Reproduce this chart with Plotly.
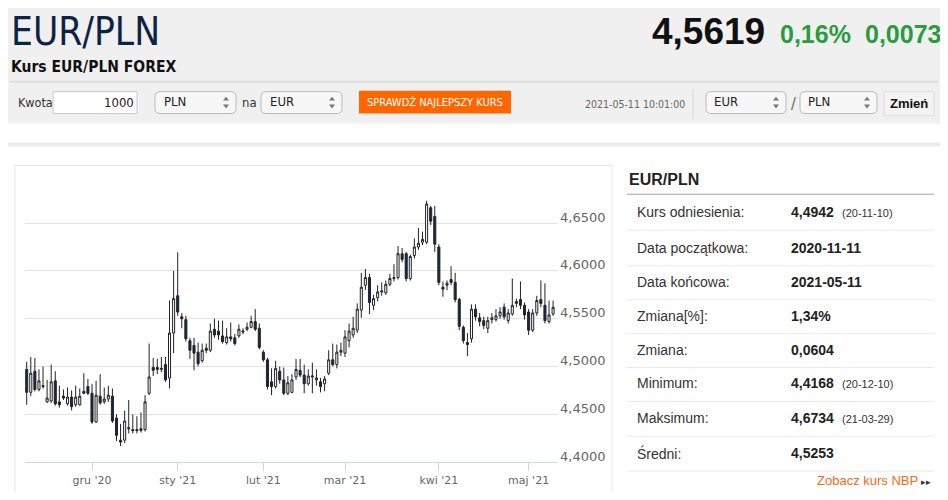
import plotly.graph_objects as go

# the page has an 8px body margin, so the figure is drawn 8px in from the edges
PAGE_W, PAGE_H = 948, 500
OFF = 8
W, H = PAGE_W - 2 * OFF, PAGE_H - 2 * OFF

# trading days shown on the ordinal axis
NOV_20 = [9, 10, 11, 12, 13, 16, 17, 18, 19, 20, 23, 24, 25, 26, 27, 30]
DEC_20 = [1, 2, 3, 4, 7, 8, 9, 10, 11, 14, 15, 16, 17, 18, 21, 22, 23, 28, 29, 30, 31]
JAN_21 = [1, 4, 5, 6, 7, 8, 11, 12, 13, 14, 15, 18, 19, 20, 21, 22, 25, 26, 27, 28, 29]
FEB_21 = [1, 2, 3, 4, 5, 8, 9, 10, 11, 12, 15, 16, 17, 18, 19, 22, 23, 24, 25, 26]
MAR_21 = [1, 2, 3, 4, 5, 8, 9, 10, 11, 12, 15, 16, 17, 18, 19, 22, 23, 24, 25, 26, 29, 30, 31]
APR_21 = [1, 2, 5, 6, 7, 8, 9, 12, 13, 14, 15, 16, 19, 20, 21, 22, 23, 26, 27, 28, 29, 30]
MAY_21 = [3, 4, 5, 6, 7, 10, 11]

dates = ([f"2020-11-{d:02d}" for d in NOV_20] + [f"2020-12-{d:02d}" for d in DEC_20]
         + [f"2021-01-{d:02d}" for d in JAN_21] + [f"2021-02-{d:02d}" for d in FEB_21]
         + [f"2021-03-{d:02d}" for d in MAR_21] + [f"2021-04-{d:02d}" for d in APR_21]
         + [f"2021-05-{d:02d}" for d in MAY_21])

OPEN = [4.497, 4.473, 4.495, 4.476, 4.480, 4.463, 4.464, 4.485, 4.463, 4.469,
        4.461, 4.468, 4.460, 4.460, 4.474, 4.479, 4.472, 4.442, 4.469, 4.463,
        4.466, 4.469, 4.446, 4.423, 4.423, 4.436, 4.434, 4.434, 4.433, 4.434,
        4.472, 4.499, 4.499, 4.497, 4.502, 4.488, 4.535, 4.574, 4.552, 4.549,
        4.527, 4.522, 4.515, 4.506, 4.519, 4.517, 4.539, 4.537, 4.532, 4.525,
        4.531, 4.530, 4.532, 4.536, 4.539, 4.541, 4.547, 4.540, 4.515, 4.507,
        4.484, 4.479, 4.495, 4.486, 4.472, 4.473, 4.489, 4.496, 4.491, 4.482,
        4.489, 4.486, 4.484, 4.482, 4.493, 4.507, 4.502, 4.515, 4.514, 4.527,
        4.533, 4.538, 4.559, 4.585, 4.593, 4.564, 4.572, 4.578, 4.577, 4.586,
        4.592, 4.593, 4.618, 4.618, 4.592, 4.616, 4.625, 4.630, 4.630, 4.666,
        4.657, 4.625, 4.583, 4.585, 4.591, 4.588, 4.570, 4.541, 4.525, 4.529,
        4.560, 4.551, 4.548, 4.540, 4.549, 4.549, 4.553, 4.562, 4.548, 4.555,
        4.566, 4.570, 4.564, 4.557, 4.538, 4.556, 4.570, 4.564, 4.547, 4.555]
HIGH = [4.505, 4.510, 4.509, 4.497, 4.500, 4.486, 4.502, 4.495, 4.480, 4.476,
        4.478, 4.475, 4.480, 4.477, 4.493, 4.487, 4.482, 4.485, 4.492, 4.478,
        4.480, 4.477, 4.450, 4.440, 4.454, 4.465, 4.450, 4.448, 4.452, 4.470,
        4.524, 4.509, 4.508, 4.510, 4.510, 4.569, 4.600, 4.6195, 4.556, 4.553,
        4.530, 4.530, 4.525, 4.524, 4.524, 4.545, 4.550, 4.548, 4.548, 4.540,
        4.546, 4.534, 4.544, 4.540, 4.546, 4.553, 4.560, 4.545, 4.517, 4.509,
        4.498, 4.506, 4.500, 4.499, 4.490, 4.492, 4.508, 4.508, 4.502, 4.497,
        4.504, 4.497, 4.488, 4.490, 4.517, 4.524, 4.523, 4.525, 4.538, 4.545,
        4.552, 4.566, 4.598, 4.602, 4.597, 4.575, 4.585, 4.588, 4.590, 4.597,
        4.607, 4.626, 4.624, 4.620, 4.617, 4.634, 4.645, 4.641, 4.6734, 4.668,
        4.668, 4.628, 4.589, 4.590, 4.605, 4.598, 4.572, 4.543, 4.535, 4.565,
        4.565, 4.556, 4.552, 4.552, 4.556, 4.560, 4.562, 4.566, 4.560, 4.592,
        4.571, 4.589, 4.567, 4.560, 4.560, 4.574, 4.590, 4.587, 4.569, 4.569]
LOW = [4.460, 4.469, 4.474, 4.474, 4.477, 4.462, 4.462, 4.459, 4.457, 4.465,
       4.459, 4.454, 4.458, 4.459, 4.471, 4.470, 4.440, 4.441, 4.460, 4.461,
       4.463, 4.441, 4.422, 4.4168, 4.420, 4.430, 4.430, 4.430, 4.431, 4.432,
       4.470, 4.490, 4.492, 4.494, 4.484, 4.477, 4.514, 4.553, 4.540, 4.526,
       4.508, 4.496, 4.500, 4.504, 4.514, 4.515, 4.530, 4.528, 4.524, 4.523,
       4.526, 4.522, 4.530, 4.534, 4.537, 4.540, 4.537, 4.518, 4.505, 4.476,
       4.470, 4.477, 4.482, 4.470, 4.470, 4.472, 4.486, 4.489, 4.472, 4.480,
       4.472, 4.480, 4.473, 4.474, 4.491, 4.500, 4.498, 4.511, 4.510, 4.520,
       4.530, 4.535, 4.551, 4.580, 4.555, 4.559, 4.568, 4.574, 4.575, 4.584,
       4.589, 4.591, 4.609, 4.589, 4.590, 4.613, 4.622, 4.627, 4.628, 4.648,
       4.620, 4.585, 4.573, 4.580, 4.585, 4.567, 4.538, 4.524, 4.511, 4.525,
       4.548, 4.542, 4.539, 4.535, 4.545, 4.547, 4.550, 4.549, 4.545, 4.553,
       4.562, 4.560, 4.549, 4.533, 4.536, 4.553, 4.562, 4.545, 4.545, 4.553]
CLOSE = [4.473, 4.493, 4.476, 4.485, 4.479, 4.467, 4.484, 4.461, 4.460, 4.467,
         4.468, 4.458, 4.468, 4.469, 4.472, 4.472, 4.442, 4.470, 4.462, 4.466,
         4.470, 4.443, 4.428, 4.421, 4.443, 4.435, 4.433, 4.433, 4.435, 4.463,
         4.489, 4.496, 4.497, 4.498, 4.486, 4.535, 4.571, 4.557, 4.550, 4.529,
         4.517, 4.514, 4.503, 4.517, 4.517, 4.537, 4.533, 4.533, 4.526, 4.531,
         4.529, 4.524, 4.539, 4.537, 4.541, 4.547, 4.539, 4.520, 4.507, 4.479,
         4.479, 4.498, 4.486, 4.472, 4.483, 4.486, 4.497, 4.491, 4.482, 4.490,
         4.490, 4.488, 4.479, 4.487, 4.507, 4.502, 4.515, 4.517, 4.531, 4.537,
         4.540, 4.560, 4.583, 4.593, 4.567, 4.571, 4.578, 4.579, 4.586, 4.592,
         4.593, 4.618, 4.612, 4.592, 4.615, 4.625, 4.629, 4.633, 4.670, 4.652,
         4.628, 4.588, 4.581, 4.587, 4.588, 4.570, 4.542, 4.527, 4.523, 4.560,
         4.552, 4.547, 4.543, 4.548, 4.551, 4.553, 4.557, 4.552, 4.556, 4.564,
         4.568, 4.564, 4.554, 4.538, 4.556, 4.569, 4.566, 4.548, 4.554, 4.5619]

TICK_DATES = ["2020-12-01", "2021-01-01", "2021-02-01", "2021-03-01", "2021-04-01", "2021-05-03"]
TICK_TEXT = ["gru '20", "sty '21", "lut '21", "mar '21", "kwi '21", "maj '21"]
Y_TICKS = [4.40, 4.45, 4.50, 4.55, 4.60, 4.65, 4.70]
Y_TEXT = ["4,4000", "4,4500", "4,5000", "4,5500", "4,6000", "4,6500", ""]

STAT_LABELS = ["Kurs odniesienia:", "Data początkowa:", "Data końcowa:", "Zmiana[%]:",
               "Zmiana:", "Minimum:", "Maksimum:", "Średni:"]
STAT_VALUES = ["4,4942", "2020-11-11", "2021-05-11", "1,34%", "0,0604", "4,4168", "4,6734", "4,5253"]
STAT_DATES = ["(20-11-10)", "", "", "", "", "(20-12-10)", "(21-03-29)", ""]

SANS = "Liberation Sans, Arial, sans-serif"
NARROW = "Liberation Sans Narrow, DejaVu Sans Condensed, Arial Narrow, sans-serif"
ORANGE = "#ff6600"
GREEN = "#2b9b3f"


def px(x):
    return (x - OFF) / W


def py(y):
    return 1 - (y - OFF) / H


shapes = []
annotations = []


def rect(x0, y0, x1, y1, fill, line=None, lw=0):
    shapes.append(dict(type="rect", xref="paper", yref="paper", layer="below",
                       x0=px(x0), x1=px(x1), y0=py(y1), y1=py(y0),
                       fillcolor=fill, line=dict(color=line or fill, width=lw)))


def hline(x0, x1, y, color, lw=1):
    shapes.append(dict(type="line", xref="paper", yref="paper", layer="below",
                       x0=px(x0), x1=px(x1), y0=py(y), y1=py(y),
                       line=dict(color=color, width=lw)))


def vline(x, y0, y1, color, lw=1):
    shapes.append(dict(type="line", xref="paper", yref="paper", layer="below",
                       x0=px(x), x1=px(x), y0=py(y0), y1=py(y1),
                       line=dict(color=color, width=lw)))


def rrect(x0, y0, x1, y1, r, fill, line):
    pts = (f"M{px(x0 + r)},{py(y0)} L{px(x1 - r)},{py(y0)} Q{px(x1)},{py(y0)} {px(x1)},{py(y0 + r)} "
           f"L{px(x1)},{py(y1 - r)} Q{px(x1)},{py(y1)} {px(x1 - r)},{py(y1)} "
           f"L{px(x0 + r)},{py(y1)} Q{px(x0)},{py(y1)} {px(x0)},{py(y1 - r)} "
           f"L{px(x0)},{py(y0 + r)} Q{px(x0)},{py(y0)} {px(x0 + r)},{py(y0)} Z")
    shapes.append(dict(type="path", xref="paper", yref="paper", layer="below", path=pts,
                       fillcolor=fill, line=dict(color=line, width=1)))


def arrows(cx, cy, color="#777"):
    for sgn in (-1, 1):
        tip = cy + sgn * 6
        base = cy + sgn * 2
        shapes.append(dict(type="path", xref="paper", yref="paper", layer="below",
                           path=f"M{px(cx - 3)},{py(base)} L{px(cx + 3)},{py(base)} L{px(cx)},{py(tip)} Z",
                           fillcolor=color, line=dict(width=0)))


def text(x, y, s, size, color="#333", family=SANS, weight="normal", anchor="left", vanchor="middle"):
    annotations.append(dict(xref="paper", yref="paper", x=px(x), y=py(y), text=s,
                            showarrow=False, xanchor=anchor, yanchor=vanchor, borderpad=0,
                            font=dict(family=family, size=size, color=color, weight=weight)))


# page background blocks
rect(-20, -20, PAGE_W + 20, 124, "#f0f0f0")
hline(10, 938, 82, "#dcdcdc", 2)
rect(-20, 143, PAGE_W + 20, 147, "#ebebeb")
rect(-20, 147, 3, PAGE_H + 20, "#ebebeb")
rect(945, 147, PAGE_W + 20, PAGE_H + 20, "#ebebeb")
rect(15, 166, 612, PAGE_H + 20, "#ffffff", "#e6e6e6", 1)

# header
text(10, 8.5, "EUR/PLN", 38.5, "#0c2347", NARROW, vanchor="top")
text(10, 67, "Kurs EUR/PLN FOREX", 15.5, "#111111", NARROW, "bold")
text(651, 32, "4,5619", 37, "#111111", SANS, "bold")
text(779, 34, "0,16%", 25, GREEN, SANS, "bold")
text(864, 34, "0,0073", 25, GREEN, SANS, "bold")

# converter form
text(17, 103, "Kwota", 12.5, "#333", NARROW)
rect(53, 92, 137, 114, "#ffffff", "#c8c8c8", 1)
text(135, 103, "1000", 13, "#222", NARROW, anchor="right")
rrect(155, 92, 236, 114, 5, "#f7f7f7", "#b9b9b9")
text(163, 102, "PLN", 13, "#222", NARROW)
arrows(226, 103)
text(241, 103, "na", 13, "#333", NARROW)
rrect(261, 92, 342, 114, 5, "#f7f7f7", "#b9b9b9")
text(269, 102, "EUR", 13, "#222", NARROW)
arrows(332, 103)
rect(359, 91, 511, 114, ORANGE)
text(435, 103, "SPRAWDŹ NAJLEPSZY KURS", 11, "#ffffff", NARROW, anchor="center")

text(584, 104, "2021-05-11 10:01:00", 10.5, "#666", NARROW)
vline(693, 89, 120, "#d6d6d6")
rrect(706, 92, 786, 114, 5, "#f7f7f7", "#b9b9b9")
text(713, 102, "EUR", 13, "#222", NARROW)
arrows(776, 103)
text(793, 104, "/", 16, "#666", NARROW, anchor="center")
rrect(800, 92, 877, 114, 5, "#f7f7f7", "#b9b9b9")
text(807, 102, "PLN", 13, "#222", NARROW)
arrows(867, 103)
rect(884, 92, 934, 116, "#f3f3f3", "#dedede", 1)
text(909, 104, "Zmień", 13, "#111", SANS, "bold", anchor="center")

# statistics panel
text(628, 180, "EUR/PLN", 16, "#222", SANS, "bold")
hline(627, 934, 195, "#a6a6a6", 1)
ROW_Y = [213, 249, 283, 317, 351, 385, 420, 455]
for i, lab in enumerate(STAT_LABELS):
    yc = ROW_Y[i]
    text(636, yc, lab, 14, "#333")
    text(790, yc, STAT_VALUES[i], 14, "#222", weight="bold")
    if STAT_DATES[i]:
        text(841, yc + 1, STAT_DATES[i], 11, "#333")
    hline(627, 934, yc + 18, "#e9e9e9", 1)
text(919, 482.5, "Zobacz kurs NBP", 13, "#f26a1b", anchor="right")
text(932, 483.5, "▸▸", 9, "#333", anchor="right")

fig = go.Figure(go.Candlestick(
    x=dates, open=OPEN, high=HIGH, low=LOW, close=CLOSE,
    increasing=dict(fillcolor="#ffffff", line=dict(color="#222222", width=1)),
    decreasing=dict(fillcolor="#0f2a4e", line=dict(color="#222222", width=1)),
    whiskerwidth=0, hoverinfo="skip",
))

fig.update_layout(
    width=W, height=H, margin=dict(l=0, r=0, t=0, b=0),
    paper_bgcolor="#ffffff", plot_bgcolor="rgba(0,0,0,0)",
    showlegend=False, separators=", ", boxgap=0.28,
    shapes=shapes, annotations=annotations,
    xaxis=dict(
        type="category", domain=[px(25), px(558)], range=[-0.42, 130.2],
        rangeslider=dict(visible=False), showgrid=False,
        tickmode="array", tickvals=TICK_DATES, ticktext=TICK_TEXT,
        ticks="outside", ticklen=8, tickcolor="#ccd6eb",
        showline=True, linecolor="#ccd6eb", linewidth=1,
        tickfont=dict(family="DejaVu Sans, sans-serif", size=11, color="#666666"),
        fixedrange=True,
    ),
    yaxis=dict(
        domain=[py(464), py(176)], range=[4.40, 4.70], side="right",
        tickmode="array", tickvals=Y_TICKS, ticktext=Y_TEXT,
        showgrid=True, gridcolor="#e3e3e3", gridwidth=1, zeroline=False,
        ticks="", ticklabelshift=-6, ticklabelstandoff=1,
        tickfont=dict(family="DejaVu Sans, sans-serif", size=13, color="#666666"),
        fixedrange=True,
    ),
)

fig.write_html("out.html")
